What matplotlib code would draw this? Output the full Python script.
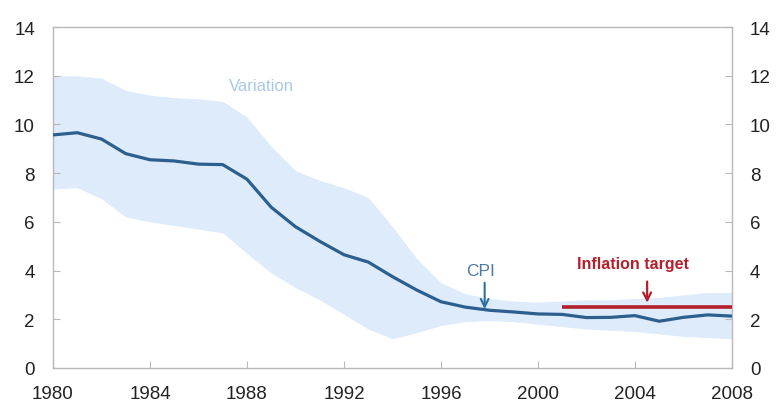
import matplotlib
matplotlib.use("Agg")
import matplotlib.pyplot as plt

plt.rcParams['font.family'] = ['Liberation Sans', 'DejaVu Sans']

years = list(range(1980, 2009))
cpi = [9.57, 9.66, 9.4, 8.8, 8.55, 8.5, 8.37, 8.35, 7.75, 6.6, 5.8, 5.2, 4.65, 4.35, 3.75, 3.2, 2.72, 2.5, 2.37, 2.3, 2.22, 2.2, 2.07, 2.08, 2.15, 1.92, 2.08, 2.18, 2.13]
upper = [12.0, 12.0, 11.9, 11.4, 11.2, 11.1, 11.05, 10.95, 10.3, 9.1, 8.1, 7.7, 7.4, 7.0, 5.8, 4.5, 3.5, 3.05, 2.85, 2.75, 2.7, 2.75, 2.8, 2.8, 2.85, 2.9, 3.0, 3.1, 3.1]
lower = [7.35, 7.4, 6.95, 6.2, 6.0, 5.85, 5.7, 5.55, 4.7, 3.9, 3.3, 2.8, 2.2, 1.6, 1.2, 1.45, 1.75, 1.9, 1.95, 1.9, 1.8, 1.7, 1.6, 1.55, 1.5, 1.4, 1.3, 1.25, 1.2]
target_years = [2001, 2008]
target_value = [2.5, 2.5]
xticks = [1980, 1984, 1988, 1992, 1996, 2000, 2004, 2008]
yticks = [0, 2, 4, 6, 8, 10, 12, 14]

fig = plt.figure(figsize=(7.79, 4.10), dpi=100)
ax = fig.add_axes([0.068, 0.1, 0.8717, 0.8317])

ax.fill_between(years, lower, upper, color='#ddebfa', linewidth=0, zorder=1)
ax.plot(years, cpi, color='#2c5f8e', linewidth=2.3, zorder=3)
ax.plot(target_years, target_value, color='#b3202c', linewidth=2.6, zorder=4, solid_capstyle='butt')

ax.set_xlim(1980, 2008)
ax.set_ylim(0, 14)
ax.set_xticks(xticks)
ax.set_yticks(yticks)

for s in ax.spines.values():
    s.set_color('#b8b8b8')
    s.set_linewidth(1.0)

ax.tick_params(axis='both', direction='in', length=5, color='#b8b8b8',
               labelsize=13.5, labelcolor='#222222')
ax.tick_params(axis='x', pad=12)
ax.tick_params(axis='y', pad=13, left=True, right=True, labelleft=True, labelright=True)

ax.text(1988.6, 11.6, 'Variation', color='#a8c8ea', fontsize=12, ha='center', va='center', zorder=5)

# CPI label and arrow
ax.text(1997.65, 4.0, 'CPI', color='#4a7aa6', fontsize=12.5, ha='center', va='center', zorder=6)
ax.annotate('', xy=(1997.8, 2.42), xytext=(1997.8, 3.5),
            arrowprops=dict(arrowstyle='->', color='#2c6f9e', lw=1.5, shrinkA=0, shrinkB=0,
                            mutation_scale=14),
            zorder=6)

# Inflation target label and arrow
ax.text(2003.9, 4.27, 'Inflation target', color='#b3202c', fontsize=11.5,
        fontweight='bold', ha='center', va='center', zorder=6)
ax.annotate('', xy=(2004.5, 2.68), xytext=(2004.5, 3.55),
            arrowprops=dict(arrowstyle='->', color='#b3202c', lw=1.6, shrinkA=0, shrinkB=0,
                            mutation_scale=14),
            zorder=6)

fig.savefig('out.png', dpi=100)
